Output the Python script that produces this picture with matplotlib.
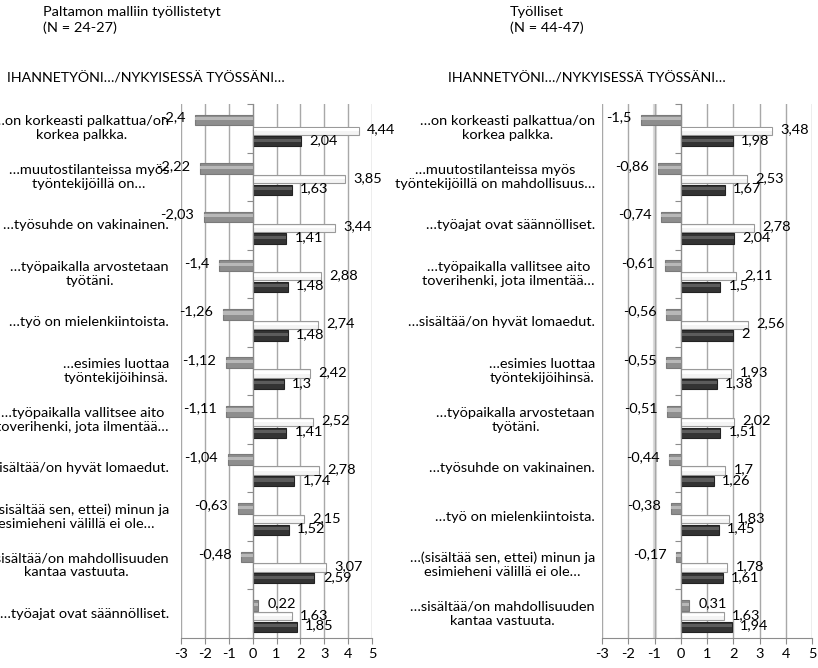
import matplotlib
matplotlib.use("Agg")
import matplotlib.pyplot as plt

plt.rcParams['font.family'] = ['Lato', 'DejaVu Sans']

# vasen paneeli: Paltamon malliin tyollistetyt
labels_a = ["…on korkeasti palkattua/on\nkorkea palkka.",
            "…muutostilanteissa myös\ntyöntekijöillä on…",
            "…työsuhde on vakinainen.",
            "…työpaikalla arvostetaan\ntyötäni.",
            "…työ on mielenkiintoista.",
            "…esimies luottaa\ntyöntekijöihinsä.",
            "…työpaikalla vallitsee aito\ntoverihenki, jota ilmentää…",
            "…sisältää/on hyvät lomaedut.",
            "…(sisältää sen, ettei) minun ja\nesimieheni välillä ei ole…",
            "…sisältää/on mahdollisuuden\nkantaa vastuuta.",
            "…työajat ovat säännölliset."]
diff_a = [-2.4, -2.22, -2.03, -1.4, -1.26, -1.12, -1.11, -1.04, -0.63, -0.48, 0.22]
ideal_a = [4.44, 3.85, 3.44, 2.88, 2.74, 2.42, 2.52, 2.78, 2.15, 3.07, 1.63]
now_a = [2.04, 1.63, 1.41, 1.48, 1.48, 1.3, 1.41, 1.74, 1.52, 2.59, 1.85]

# oikea paneeli: Tyolliset
labels_b = ["…on korkeasti palkattua/on\nkorkea palkka.",
            "…muutostilanteissa myös\ntyöntekijöillä on mahdollisuus…",
            "…työajat ovat säännölliset.",
            "…työpaikalla vallitsee aito\ntoverihenki, jota ilmentää…",
            "…sisältää/on hyvät lomaedut.",
            "…esimies luottaa\ntyöntekijöihinsä.",
            "…työpaikalla arvostetaan\ntyötäni.",
            "…työsuhde on vakinainen.",
            "…työ on mielenkiintoista.",
            "…(sisältää sen, ettei) minun ja\nesimieheni välillä ei ole…",
            "…sisältää/on mahdollisuuden\nkantaa vastuuta."]
diff_b = [-1.5, -0.86, -0.74, -0.61, -0.56, -0.55, -0.51, -0.44, -0.38, -0.17, 0.31]
ideal_b = [3.48, 2.53, 2.78, 2.11, 2.56, 1.93, 2.02, 1.7, 1.83, 1.78, 1.63]
now_b = [1.98, 1.67, 2.04, 1.5, 2, 1.38, 1.51, 1.26, 1.45, 1.61, 1.94]

x_ticks = list(range(-3, 6))
subtitle = "IHANNETYÖNI…/NYKYISESSÄ TYÖSSÄNI…"

W, H = 818, 668
fig = plt.figure(figsize=(W / 100, H / 100), dpi=100)
rend = fig.canvas.get_renderer()


def text_w(s, size):
    t = fig.text(0, 0, s, fontsize=size)
    w = t.get_window_extent(rend).width
    t.remove()
    return w


# fonttikoko sovitetaan kuvan tekstien leveyteen (Lato ~ Calibri)
FS = 10 * 186 / text_w("…sisältää/on hyvät lomaedut.", 10)
FS_SUB = 10 * 275 / text_w(subtitle, 10)
FS_VAL = min(FS, 10 * 29 / text_w("4,44", 10))


def fmt(v):
    return f"{v:g}".replace('.', ',')


def bevel_bar(ax, y, vals, h, base, light, edge):
    ax.barh(y, vals, height=h, color=base, edgecolor=edge, linewidth=0.8, zorder=3)
    ax.barh([c - h * 0.12 for c in y], vals, height=h * 0.3, color=light,
            linewidth=0, zorder=4)


def panel(rect, labels, diff, ideal, now, label_right):
    ax = fig.add_axes(rect)
    n = len(labels)
    cen = [i + 0.5 for i in range(n)]
    y_d = [c - 0.17 for c in cen]
    y_i = [c + 0.05 for c in cen]
    y_n = [c + 0.27 for c in cen]

    bevel_bar(ax, y_d, diff, 0.22, '#8e8e8e', '#b8b8b8', '#7a7a7a')
    bevel_bar(ax, y_i, ideal, 0.17, '#f4f4f4', '#ffffff', '#9a9a9a')
    bevel_bar(ax, y_n, now, 0.21, '#333333', '#5c5c5c', '#222222')

    # arvojen tekstit
    for yy, v in zip(y_d, diff):
        if v < 0:
            ax.annotate(fmt(v), (v, yy), xytext=(-7, 2), textcoords='offset points',
                        ha='right', va='center', fontsize=FS_VAL, zorder=6)
        else:
            ax.annotate(fmt(v), (v, yy), xytext=(7, 2), textcoords='offset points',
                        ha='left', va='center', fontsize=FS_VAL, zorder=6)
    for yy, v in zip(y_i, ideal):
        ax.annotate(fmt(v), (v, yy), xytext=(6, 1), textcoords='offset points',
                    ha='left', va='center', fontsize=FS_VAL, zorder=6)
    for yy, v in zip(y_n, now):
        ax.annotate(fmt(v), (v, yy), xytext=(6, 1), textcoords='offset points',
                    ha='left', va='center', fontsize=FS_VAL, zorder=6)

    ax.set_xlim(-3, 5)
    ax.set_ylim(n, 0)
    ax.set_xticks(x_ticks)
    ax.set_xticklabels([str(t) for t in x_ticks], fontsize=FS_VAL)
    ax.grid(axis='x', color='#a8a8a8', linewidth=1, zorder=0)
    ax.set_axisbelow(True)

    ax.spines['top'].set_visible(False)
    ax.spines['right'].set_visible(False)
    ax.spines['left'].set_position(('data', 0))
    ax.spines['left'].set_color('#8c8c8c')
    ax.spines['left'].set_zorder(5)
    ax.spines['bottom'].set_color('#8c8c8c')
    ax.set_yticks(range(n + 1))
    ax.set_yticklabels([])
    ax.tick_params(axis='y', length=4, color='#8c8c8c')
    ax.tick_params(axis='x', length=4, color='#8c8c8c', pad=3)

    # kategoriat
    for c, lab in zip(cen, labels):
        ax.text(label_right, c, lab, transform=ax.get_yaxis_transform(),
                ha='right', va='center', multialignment='center', fontsize=FS,
                clip_on=False)
    return ax


ax1 = panel([181 / W, 1 - 638 / H, 191 / W, 534 / H],
            labels_a, diff_a, ideal_a, now_a, -12 / 191)
ax2 = panel([602 / W, 1 - 638 / H, 210 / W, 534 / H],
            labels_b, diff_b, ideal_b, now_b, -7 / 210)
ax2.axvline(-1, color='#dcdcdc', linewidth=3, zorder=0.5)

# otsikot
fig.text(43 / W, 1 - 6 / H, "Paltamon malliin työllistetyt\n(N = 24-27)",
         ha='left', va='top', fontsize=FS, linespacing=1.35)
fig.text(7 / W, 1 - 78 / H, subtitle, ha='left', va='center', fontsize=FS_SUB)
fig.text(510 / W, 1 - 6 / H, "Työlliset\n(N = 44-47)",
         ha='left', va='top', fontsize=FS, linespacing=1.35)
fig.text(448 / W, 1 - 78 / H, subtitle, ha='left', va='center', fontsize=FS_SUB)

fig.savefig("out.png", dpi=100)
